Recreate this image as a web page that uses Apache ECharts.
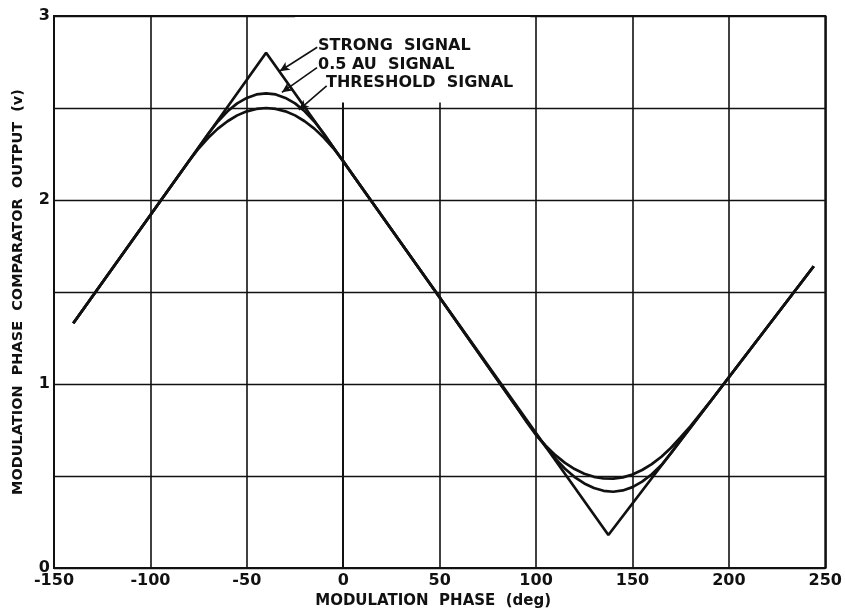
<!DOCTYPE html>
<html>
<head>
<meta charset="utf-8">
<script src="https://cdn.jsdelivr.net/npm/echarts@6/dist/echarts.min.js"></script>
<style>
  html, body { margin: 0; padding: 0; background: #fff; }
  #chart { width: 845px; height: 614px; }
</style>
</head>
<body>
<div id="chart"></div>
<script>
// modulation phase (deg) vs comparator output (v)
const strongX = [-140, -40, 137.5, 244];
const strongY = [1.33, 2.8, 0.18, 1.64];

const auX = [-140, -90, -80, -70, -65, -60, -55, -50, -45, -40, -35, -30, -25, -20, -15, -10, -5, 50, 90,
  100, 105, 110, 115, 120, 125, 130, 135, 140, 145, 150, 155, 160, 165, 170, 175, 180, 190, 244];
const auY = [1.33, 2.065, 2.212, 2.36, 2.427, 2.482, 2.525, 2.555, 2.574, 2.58, 2.574, 2.555, 2.525, 2.482, 2.427, 2.36, 2.284, 1.47, 0.873,
  0.727, 0.66, 0.595, 0.54, 0.495, 0.46, 0.435, 0.42, 0.415, 0.422, 0.44, 0.47, 0.51, 0.56, 0.625, 0.694, 0.762, 0.9, 1.64];

const thrX = [-140, -90, -85, -80, -75, -70, -65, -60, -55, -50, -45, -40, -35, -30, -25, -20, -15, -10, -5, 0, 5, 50, 90,
  95, 100, 105, 110, 115, 120, 125, 130, 135, 140, 145, 150, 155, 160, 165, 170, 175, 180, 185, 190, 244];
const thrY = [1.33, 2.065, 2.139, 2.212, 2.28, 2.338, 2.388, 2.428, 2.46, 2.482, 2.495, 2.5, 2.495, 2.482, 2.46, 2.428, 2.388, 2.338, 2.28, 2.212, 2.136, 1.47, 0.873,
  0.795, 0.723, 0.665, 0.614, 0.572, 0.538, 0.513, 0.496, 0.487, 0.486, 0.493, 0.509, 0.533, 0.565, 0.605, 0.654, 0.711, 0.77, 0.835, 0.9, 1.64];

const xTicks = [-150, -100, -50, 0, 50, 100, 150, 200, 250];
const yTicks = [0, 1, 2, 3];

const FONT = '"DejaVu Sans", sans-serif';
const INK = "#111";

const zip = (xs, ys) => xs.map((x, i) => [x, ys[i]]);

const chart = echarts.init(document.getElementById("chart"));

const curveStyle = { color: INK, width: 2.7 };
const labelFont = `bold 16px ${FONT}`;

chart.setOption({
  animation: false,
  backgroundColor: "#fff",
  grid: {
    left: 54,
    right: 19,
    top: 16,
    bottom: 44,
    show: true,
    borderColor: INK,
    borderWidth: 2,
  },
  xAxis: {
    type: "value",
    min: xTicks[0],
    max: xTicks[xTicks.length - 1],
    interval: 50,
    name: "MODULATION  PHASE  (deg)",
    nameLocation: "middle",
    nameGap: 25,
    nameTextStyle: { fontFamily: FONT, fontWeight: "bold", fontSize: 15, color: INK, padding: [0, 13, 0, 0] },
    axisLine: { show: true, lineStyle: { color: INK, width: 2 } },
    axisTick: { show: false },
    axisLabel: { fontFamily: FONT, fontWeight: "bold", fontSize: 16, color: INK, margin: 5 },
    splitLine: { show: true, lineStyle: { color: INK, width: 1.6 } },
  },
  yAxis: {
    type: "value",
    min: 0,
    max: yTicks[yTicks.length - 1],
    interval: 0.5,
    name: "MODULATION  PHASE  COMPARATOR  OUTPUT  (v)",
    nameLocation: "middle",
    nameGap: 28,
    nameTextStyle: { fontFamily: FONT, fontWeight: "bold", fontSize: 14.5, color: INK },
    axisLine: { show: true, lineStyle: { color: INK, width: 2 } },
    axisTick: { show: false },
    axisLabel: {
      fontFamily: FONT,
      fontWeight: "bold",
      fontSize: 16,
      color: INK,
      margin: 4,
      formatter: (v) => (yTicks.includes(v) ? String(v) : ""),
    },
    splitLine: { show: true, lineStyle: { color: INK, width: 1.4 } },
  },
  graphic: [
    { type: "text", z: 100, x: 318, y: 46, style: { text: "STRONG  SIGNAL", font: labelFont, fill: INK, align: "left", verticalAlign: "middle" } },
    { type: "text", z: 100, x: 318, y: 65, style: { text: "0.5 AU  SIGNAL", font: labelFont, fill: INK, align: "left", verticalAlign: "middle" } },
    { type: "text", z: 100, x: 326, y: 83, style: { text: "THRESHOLD  SIGNAL", font: labelFont, fill: INK, align: "left", verticalAlign: "middle" } },
  ],
  series: [
    {
      // blank patch behind the labels, where the grid is not drawn
      type: "line",
      data: [],
      z: 1,
      silent: true,
      markArea: {
        silent: true,
        itemStyle: { color: "#fff" },
        data: [[{ coord: [-25, 2.53] }, { coord: [97, 2.995] }]],
      },
    },
    {
      name: "Strong signal",
      type: "line",
      data: zip(strongX, strongY),
      showSymbol: false,
      lineStyle: curveStyle,
      z: 3,
      markLine: {
        silent: true,
        symbol: ["none", "arrow"],
        symbolSize: [7, 10],
        label: { show: false },
        lineStyle: { color: INK, width: 1.6, type: "solid" },
        data: [
          [{ coord: [-13.5, 2.83] }, { coord: [-33.0, 2.70] }],
          [{ coord: [-13.6, 2.72] }, { coord: [-31.8, 2.585] }],
          [{ coord: [-8.6, 2.62] }, { coord: [-23.0, 2.49] }],
        ],
      },
    },
    {
      name: "0.5 AU signal",
      type: "line",
      data: zip(auX, auY),
      showSymbol: false,
      lineStyle: curveStyle,
      z: 3,
    },
    {
      name: "Threshold signal",
      type: "line",
      data: zip(thrX, thrY),
      showSymbol: false,
      lineStyle: curveStyle,
      z: 3,
    },
  ],
});
</script>
</body>
</html>
